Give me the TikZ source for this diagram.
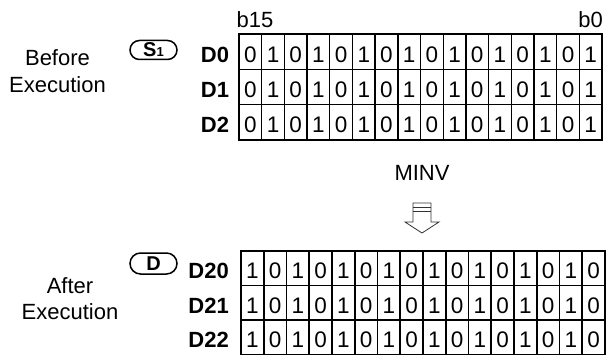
\documentclass[tikz,border=0pt]{standalone}
\usepackage{fontspec}
\setmainfont{Liberation Sans}
\usetikzlibrary{positioning}
\tikzset{
  txt/.style={inner sep=0pt, font=\fontsize{22}{26}\selectfont},
  scell/.style={draw, line width=1.4pt, minimum width=22.69pt, minimum height=35.33pt,
    inner sep=0pt, text height=21pt, text depth=0pt, font=\fontsize{22.5}{26}\selectfont},
  dcell/.style={scell, line width=1.9pt, minimum width=22.75pt, minimum height=34.5pt},
  reg/.style={inner sep=0pt, text height=21pt, text depth=0pt,
    font=\fontsize{22}{26}\selectfont\bfseries},
  oval/.style={draw, line width=1.5pt, minimum width=47pt, inner sep=0pt},
  hollow/.style={draw=black!80, line width=0.8pt, line join=miter},
}
\begin{document}
\begin{tikzpicture}[x=1pt, y=1pt]
  \useasboundingbox (0,0) rectangle (607,354);
  % source registers D0..D2
  \foreach \r in {0,1,2} {
    \foreach \c in {0,...,15} {
      \pgfmathtruncatemacro\bit{mod(\c,2)}
      \node[scell] (s-\r-\c) at ({239+22.69*(\c+0.5)},{320-35.33*(\r+0.5)}) {\bit};
    }
    \node[reg, left=9pt of s-\r-0] (sreg-\r) {D\r};
  }
  \node[txt, anchor=base west] (b15) at (236.5,326) {b15};
  \node[txt, anchor=base east] (b0) at (603,326) {b0};
  \node[oval, minimum height=19pt, rounded corners=9.5pt] (src) at (153.5,304)
       {\fontsize{20}{20}\selectfont\bfseries S\fontsize{13}{13}\selectfont 1};
  \node[txt, anchor=base] (bef) at (57.5,288) {Before};
  \node[txt, anchor=base] (bexe) at (57.5,261.5) {Execution};
  % instruction and hollow arrow
  \node[txt, anchor=base] (op) at (422,174) {MINV};
  \draw[hollow] (413,151) -- (413,132) -- (405,132) -- (422,121) -- (439,132)
       -- (431,132) -- (431,151) -- cycle;
  \draw[hollow] (413,147) -- (431,147);
  \draw[hollow] (413,143) -- (431,143);
  % destination registers D20..D22
  \foreach \r in {0,1,2} {
    \foreach \c in {0,...,15} {
      \pgfmathtruncatemacro\bit{1-mod(\c,2)}
      \node[dcell] (d-\r-\c) at ({241+22.75*(\c+0.5)},{103-34.5*(\r+0.5)}) {\bit};
    }
    \node[reg, left=11pt of d-\r-0] (dreg-\r) {D2\r};
  }
  \node[oval, minimum height=21pt, rounded corners=10.5pt] (dst) at (153.5,90.5)
       {\fontsize{20}{20}\selectfont\bfseries D};
  \node[txt, anchor=base] (aft) at (70,61) {After};
  \node[txt, anchor=base] (aexe) at (70,35) {Execution};
\end{tikzpicture}
\end{document}
